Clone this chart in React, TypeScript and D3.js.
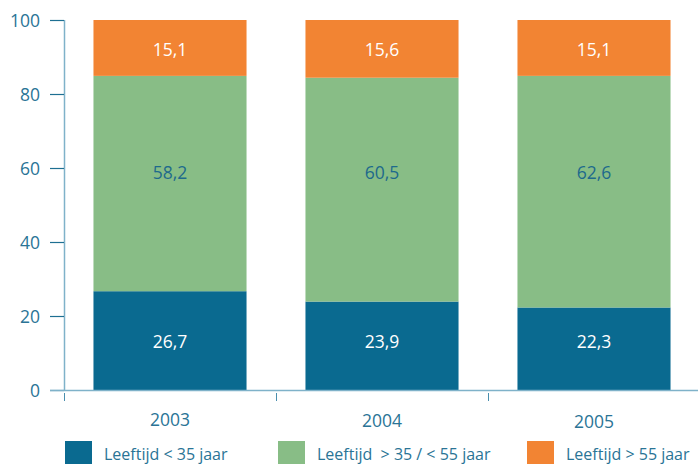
import React, { useEffect, useRef } from "react";
import * as d3 from "d3";

const years = ["2003", "2004", "2005"];
const under35 = [26.7, 23.9, 22.3];
const between = [58.2, 60.5, 62.6];
const over55 = [15.1, 15.6, 15.1];
const seriesNames = ["Leeftijd < 35 jaar", "Leeftijd  > 35 / < 55 jaar", "Leeftijd > 55 jaar"];
// value labels sit at one common height per series (in data units)
const labelLevels = [13.2, 58.9, 92.2];
const yTicks = [0, 20, 40, 60, 80, 100];

const colors = ["#0a6a90", "#88bd86", "#f28433"];
const labelColors = ["#ffffff", "#1e6a8c", "#ffffff"];
const textColor = "#2a7496";
const font = "'Open Sans', sans-serif";

const App = () => {
  const svgRef = useRef<SVGSVGElement>(null);

  useEffect(() => {
    const width = 698;
    const height = 464;
    const margin = { top: 20, left: 64, bottom: 74 };

    const svg = d3.select(svgRef.current);
    svg.selectAll("*").remove();
    svg.attr("width", width).attr("height", height);

    const rows = years.map((y, i) => ({ year: y, a: under35[i], b: between[i], c: over55[i] }));
    const stack = d3.stack<any>().keys(["a", "b", "c"])(rows);

    const x = d3.scaleBand()
      .domain(years)
      .range([margin.left, margin.left + 212 * 3])
      .paddingInner(0.278)
      .paddingOuter(0.139);

    const yScale = d3.scaleLinear()
      .domain([0, 100])
      .range([height - margin.bottom, margin.top]);

    // bars
    stack.forEach((layer, li) => {
      const g = svg.append("g");
      g.selectAll("rect")
        .data(layer)
        .join("rect")
        .attr("x", d => x(d.data.year)!)
        .attr("width", x.bandwidth())
        .attr("y", d => yScale(d[1]))
        .attr("height", d => yScale(d[0]) - yScale(d[1]))
        .attr("fill", colors[li]);

      g.selectAll("text")
        .data(layer)
        .join("text")
        .attr("x", d => x(d.data.year)! + x.bandwidth() / 2)
        .attr("y", yScale(labelLevels[li]) + 7)
        .attr("text-anchor", "middle")
        .style("font-family", font)
        .style("font-size", "17.5px")
        .attr("fill", labelColors[li])
        .text(d => (d[1] - d[0]).toFixed(1).replace(".", ","));
    });

    // y axis
    svg.append("line")
      .attr("x1", margin.left + 0.5).attr("x2", margin.left + 0.5)
      .attr("y1", yScale(100)).attr("y2", yScale(0))
      .attr("stroke", "#7fb2c9").attr("stroke-width", 1.5);

    const yt = svg.append("g");
    yTicks.forEach(t => {
      yt.append("line")
        .attr("x1", 50).attr("x2", margin.left)
        .attr("y1", yScale(t) + 0.5).attr("y2", yScale(t) + 0.5)
        .attr("stroke", "#1e6f92").attr("stroke-width", 1.2);
      yt.append("text")
        .attr("x", 40)
        .attr("y", yScale(t) + 7)
        .attr("text-anchor", "end")
        .style("font-family", font)
        .style("font-size", "17.5px")
        .attr("fill", textColor)
        .text(t);
    });

    // x axis
    svg.append("line")
      .attr("x1", 50).attr("x2", width)
      .attr("y1", yScale(0) + 0.5).attr("y2", yScale(0) + 0.5)
      .attr("stroke", "#7fb2c9").attr("stroke-width", 1.5);

    years.forEach(yr => {
      const x0 = x(yr)! - x.step() * x.paddingOuter();
      svg.append("line")
        .attr("x1", x0 + 0.5).attr("x2", x0 + 0.5)
        .attr("y1", yScale(0) + 3).attr("y2", yScale(0) + 11)
        .attr("stroke", "#4a8fae").attr("stroke-width", 1);
    });

    svg.selectAll(".xlab")
      .data(years)
      .join("text")
      .attr("x", d => x(d)! + x.bandwidth() / 2)
      .attr("y", (d, i) => 426 + i)
      .attr("text-anchor", "middle")
      .style("font-family", font)
      .style("font-size", "17.5px")
      .attr("fill", textColor)
      .text(d => d);

    // legend
    const legendX = [65, 278, 527];
    seriesNames.forEach((name, i) => {
      svg.append("rect")
        .attr("x", legendX[i]).attr("y", 441)
        .attr("width", 27).attr("height", 23)
        .attr("fill", colors[i]);
      svg.append("text")
        .attr("x", legendX[i] + 39)
        .attr("y", 460)
        .style("font-family", font)
        .style("font-size", "16px")
        .style("white-space", "pre")
        .attr("fill", textColor)
        .text(name);
    });
  }, []);

  return (
    <div style={{ position: "absolute", left: 0, top: 0 }}>
      <svg ref={svgRef} style={{ display: "block" }}></svg>
    </div>
  );
};

export default App;
